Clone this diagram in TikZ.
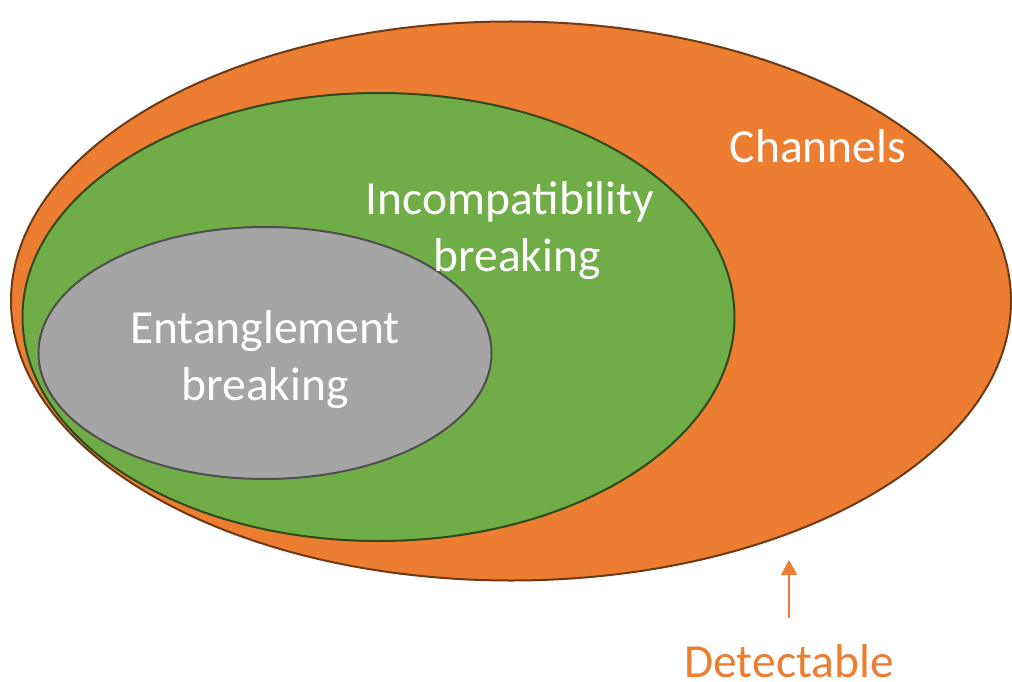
\documentclass[tikz,border=0pt]{standalone}
\usepackage{fontspec}
\setmainfont{Carlito}
\usetikzlibrary{shapes.geometric,arrows.meta}
\definecolor{chorange}{HTML}{ED7D31}
\definecolor{chorangeedge}{HTML}{6B3A16}
\definecolor{incgreen}{HTML}{70AD47}
\definecolor{incgreenedge}{HTML}{2E4A1E}
\definecolor{entgray}{HTML}{A5A5A5}
\definecolor{entgrayedge}{HTML}{4F4F4F}
\tikzset{
  setellipse/.style={ellipse, inner sep=0pt, line width=2pt},
  lbl/.style={text=white, font=\fontsize{47.5}{57}\selectfont, align=center, inner sep=0pt},
}
\begin{document}
\begin{tikzpicture}[x=1pt,y=-1pt]
\useasboundingbox (0,0) rectangle (1012,682);
\node[setellipse, fill=chorange, draw=chorangeedge, minimum width=1000pt, minimum height=559pt] (channels) at (511,301) {};
\node[setellipse, fill=incgreen, draw=incgreenedge, minimum width=712pt, minimum height=448pt] (incomp) at (378.5,317) {};
\node[setellipse, fill=entgray, draw=entgrayedge, minimum width=453pt, minimum height=252pt] (ent) at (265,353) {};
\node[lbl, anchor=base] (chlabel) at (818,162) {Channels};
\node[lbl, anchor=base] (inclabel1) at (510,214) {Incompatibility};
\node[lbl, anchor=base] (inclabel2) at (517,271) {breaking};
\node[lbl, anchor=base] (entlabel1) at (265,343) {Entanglement};
\node[lbl, anchor=base] (entlabel2) at (265,400) {breaking};
\node[lbl, anchor=base, text=chorange] (det) at (789,677) {Detectable};
\coordinate (dettip) at (789,560);
\draw[chorange, line width=1.8pt, -{Triangle[length=15pt,width=16pt]}] (789,618) -- (dettip);
\end{tikzpicture}
\end{document}
